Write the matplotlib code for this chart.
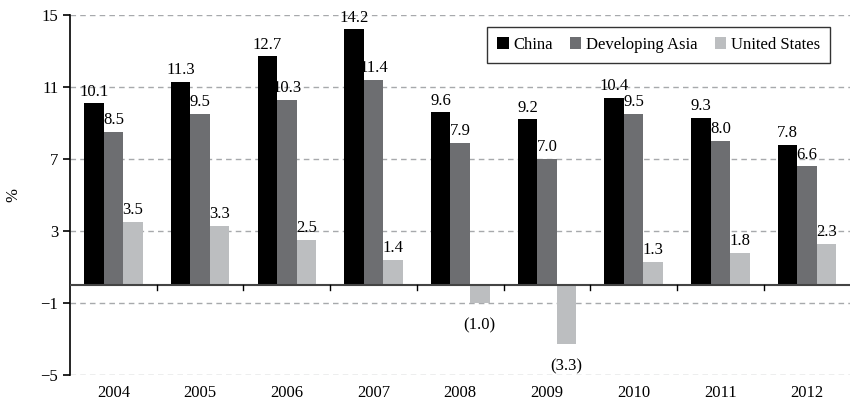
import matplotlib.pyplot as plt
import numpy as np

years = ["2004", "2005", "2006", "2007", "2008", "2009", "2010", "2011", "2012"]
china = [10.1, 11.3, 12.7, 14.2, 9.6, 9.2, 10.4, 9.3, 7.8]
dev_asia = [8.5, 9.5, 10.3, 11.4, 7.9, 7.0, 9.5, 8.0, 6.6]
us = [3.5, 3.3, 2.5, 1.4, -1.0, -3.3, 1.3, 1.8, 2.3]

series = [
    ("China", china, "#000000"),
    ("Developing Asia", dev_asia, "#6d6e71"),
    ("United States", us, "#bcbec0"),
]

plt.rcParams["font.family"] = ["Liberation Serif", "DejaVu Serif"]
FS = 12


def fmt_label(v):
    if v < 0:
        return f"({abs(v):.1f})"
    return f"{v:.1f}"


fig = plt.figure(figsize=(8.52, 4.08), dpi=100)
ax = fig.add_axes([0.0822, 0.081, 0.916, 0.882])

x = np.arange(len(years))
width = 0.225
for i, (name, vals, color) in enumerate(series):
    pos = x + (i - 1) * width
    ax.bar(pos, vals, width, color=color, label=name, zorder=3)
    for xp, v in zip(pos, vals):
        if v >= 0:
            ax.text(xp, v + 0.2, fmt_label(v), ha="center", va="bottom", fontsize=FS)
        else:
            ax.text(xp, v - 0.8, fmt_label(v), ha="center", va="top", fontsize=FS)

ax.set_xlim(-0.5, len(years) - 0.5)
ax.set_ylim(-5, 15)
ax.set_yticks([-5, -1, 3, 7, 11, 15])
ax.set_yticklabels(["\u22125", "\u22121", "3", "7", "11", "15"])
ax.yaxis.grid(True, linestyle=(0, (4, 3)), color="#a7a9ac", linewidth=1, zorder=0)

for s in ["top", "right", "bottom"]:
    ax.spines[s].set_visible(False)
ax.spines["left"].set_linewidth(1.2)

ax.axhline(0, color="#444444", linewidth=1.5, zorder=4)
ax.set_xticks(x)
ax.set_xticklabels(years)
ax.tick_params(axis="x", length=0, labelsize=FS, pad=7)
ax.tick_params(axis="y", length=5, labelsize=FS, width=1.2)
for b in x[:-1] + 0.5:
    ax.plot([b, b], [0, -0.3], color="#000000", linewidth=1, zorder=4, clip_on=False)

ax.set_ylabel("%", fontsize=FS, labelpad=14)

leg = ax.legend(loc="upper right", ncol=3, fontsize=FS, frameon=True, fancybox=False,
                handlelength=0.7, handleheight=0.7, handletextpad=0.3, columnspacing=1.0,
                borderpad=0.6, bbox_to_anchor=(0.985, 0.99))
leg.get_frame().set_edgecolor("#000000")
leg.get_frame().set_linewidth(1.0)

fig.savefig("out.png", dpi=100)
